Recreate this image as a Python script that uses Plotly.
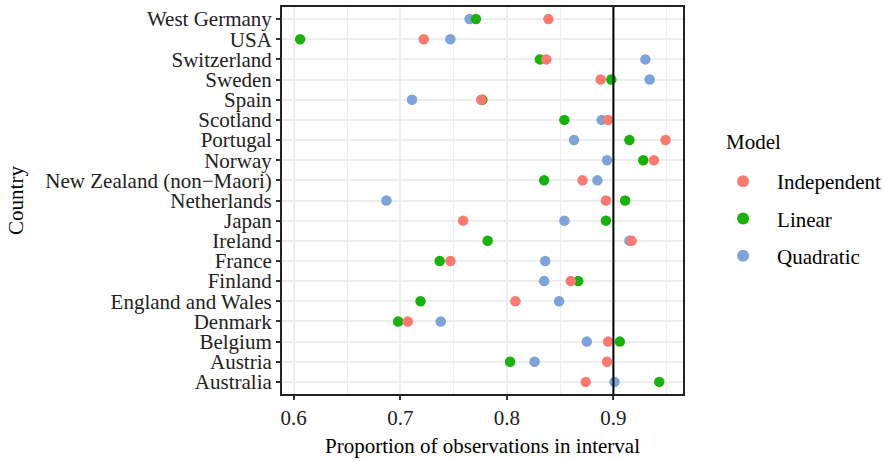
import plotly.graph_objects as go

countries = ["Australia", "Austria", "Belgium", "Denmark", "England and Wales", "Finland",
             "France", "Ireland", "Japan", "Netherlands", "New Zealand (non\u2212Maori)", "Norway",
             "Portugal", "Scotland", "Spain", "Sweden", "Switzerland", "USA", "West Germany"]

independent = [0.874, 0.894, 0.895, 0.707, 0.808, 0.860, 0.747, 0.917, 0.759, 0.893, 0.871,
               0.938, 0.949, 0.895, 0.776, 0.888, 0.837, 0.722, 0.839]
linear = [0.943, 0.803, 0.906, 0.698, 0.719, 0.867, 0.737, 0.782, 0.893, 0.911, 0.835,
          0.928, 0.915, 0.854, 0.777, 0.898, 0.831, 0.606, 0.771]
quadratic = [0.901, 0.826, 0.875, 0.738, 0.849, 0.835, 0.836, 0.915, 0.854, 0.687, 0.885,
             0.894, 0.863, 0.889, 0.711, 0.934, 0.930, 0.747, 0.765]

x_ticks = [0.6, 0.7, 0.8, 0.9]
ref_line = 0.9

series = [("Quadratic", quadratic, "#7EA3D8", 3),
          ("Linear", linear, "#19B10B", 2),
          ("Independent", independent, "#FA7A72", 1)]

fig = go.Figure()
for name, vals, col, rank in series:
    fig.add_trace(go.Scatter(
        x=vals, y=countries, mode="markers", name=name,
        legendgroup=name, legendrank=rank,
        marker=dict(color=col, size=10.5, line=dict(width=0)),
    ))

fig.add_vline(x=ref_line, line=dict(color="black", width=2), layer="above")

font_family = "Liberation Serif, Times New Roman, serif"
fs = 21
fig.add_annotation(text="Model", xref="paper", yref="paper", x=1.102, y=0.651,
                   xanchor="left", yanchor="middle", showarrow=False,
                   font=dict(size=fs, family=font_family, color="black"))

fig.update_layout(
    width=884, height=461,
    margin=dict(l=282, r=201, t=7, b=67, autoexpand=False),
    paper_bgcolor="white", plot_bgcolor="white",
    font=dict(family=font_family, size=fs, color="black"),
    showlegend=True,
    legend=dict(
        font=dict(size=fs, family=font_family),
        x=1.065, xanchor="left",
        y=0.602, yanchor="top",
        tracegroupgap=7,
        itemwidth=58,
        itemsizing="constant",
        bgcolor="rgba(0,0,0,0)",
    ),
    xaxis=dict(
        range=[0.589, 0.9653],
        tickvals=x_ticks,
        ticktext=[str(v) for v in x_ticks],
        showgrid=True, gridcolor="#EDEDED", gridwidth=1.5,
        minor=dict(dtick=0.05, tick0=0.55, showgrid=True, gridcolor="#EDEDED", gridwidth=1.2),
        ticks="outside", ticklen=4, tickwidth=1.5, tickcolor="#333333",
        showline=True, linecolor="#222222", linewidth=2, mirror=True,
        zeroline=False,
        title=dict(text="Proportion of observations in interval", font=dict(size=fs), standoff=9),
        tickfont=dict(size=fs, color="#222222"),
    ),
    yaxis=dict(
        type="category",
        categoryorder="array", categoryarray=countries,
        tickmode="array", tickvals=countries, ticktext=countries,
        range=[-0.6, 18.6],
        showgrid=True, gridcolor="#EDEDED", gridwidth=1.5,
        ticks="outside", ticklen=4, tickwidth=1.5, tickcolor="#333333",
        showline=True, linecolor="#222222", linewidth=2, mirror=True,
        zeroline=False,
        title=dict(text="Country", font=dict(size=fs), standoff=16),
        tickfont=dict(size=fs, color="#222222"),
    ),
)

fig.write_html("out.html")
